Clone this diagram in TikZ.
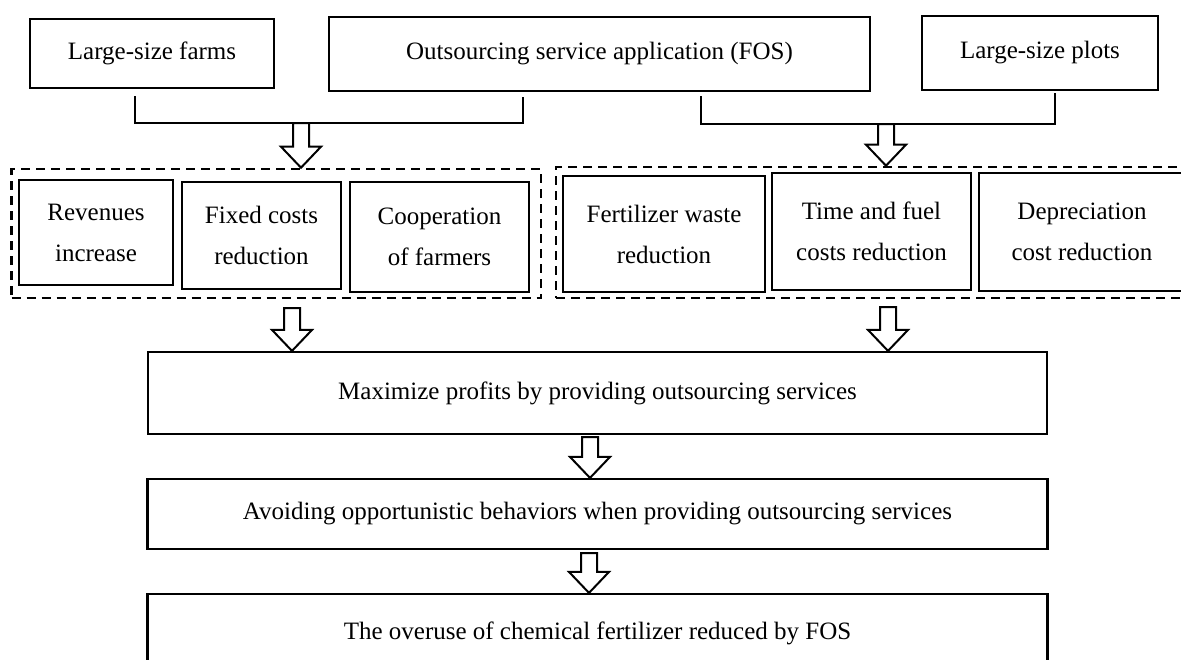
\documentclass[tikz,border=0pt]{standalone}
\usepackage{fontspec}
\setmainfont{Liberation Serif}
\usetikzlibrary{calc}
\tikzset{
  plainbox/.style={draw=black,line width=2.2pt,align=center,inner sep=0pt,
                   font=\fontsize{25}{41}\selectfont},
  groupbox/.style={draw=black,line width=2.6pt,dash pattern=on 9pt off 6pt,
                   inner sep=0pt},
  link/.style={draw=black,line width=2.4pt},
  hollowarr/.style={draw=black,fill=white,line width=2pt,line join=miter}
}
% hollow block arrow pointing down, from #1 to the tip #2
\newcommand{\hollowdown}[2]{%
  \draw[hollowarr] ($(#1)+(-8,0)$) -- ($(#2)+(-8,-21)$) -- ($(#2)+(-20,-21)$)
    -- (#2) -- ($(#2)+(20,-21)$) -- ($(#2)+(8,-21)$) -- ($(#1)+(8,0)$) -- cycle;}

\begin{document}
\begin{tikzpicture}[x=1pt,y=-1pt]
    \path[use as bounding box] (0,0) rectangle (1181,659);
    \clip (0,0) rectangle (1181,659);

    % sources
    \node[plainbox,minimum width=244pt,minimum height=69pt] (farms) at (152,53.5)
      {Large-size farms};
    \node[plainbox,minimum width=541pt,minimum height=74pt] (fos) at (599.5,54)
      {Outsourcing service application (FOS)};
    \node[plainbox,minimum width=236pt,minimum height=74pt] (plots) at (1040,53)
      {Large-size plots};
    \draw[link] ($(farms.south)+(-17,7)$) |- ($(fos.south)+(-76.5,31)$)
      -- ($(fos.south)+(-76.5,5)$);
    \draw[link] ($(fos.south)+(101.5,4)$) |- ($(plots.south)+(15,33)$)
      -- ($(plots.south)+(15,2)$);

    % two groups of effects
    \node[groupbox,minimum width=529.5pt,minimum height=129pt] (grpL) at (276.25,233.5) {};
    \node[groupbox,minimum width=650pt,minimum height=131pt] (grpR) at (881,232.5) {};

    \node[plainbox,minimum width=154pt,minimum height=105pt] (rev) at (96,232.5)
      {Revenues\\increase};
    \node[plainbox,minimum width=159pt,minimum height=107pt] (fixed) at (261.5,235.5)
      {Fixed costs\\reduction};
    \node[plainbox,minimum width=179pt,minimum height=110pt] (coop) at (439.5,237)
      {Cooperation\\of farmers};
    \node[plainbox,minimum width=202pt,minimum height=116pt] (fert) at (664,234)
      {Fertilizer waste\\reduction};
    \node[plainbox,minimum width=199pt,minimum height=117pt] (time) at (871.5,231.5)
      {Time and fuel\\costs reduction};
    \node[plainbox,minimum width=206pt,minimum height=118pt] (depr) at (1082,232)
      {Depreciation\\cost reduction};

    % chain of outcomes
    \node[plainbox,minimum width=899pt,minimum height=82pt] (max) at (597.5,393)
      {Maximize profits by providing outsourcing services};
    \node[plainbox,minimum width=900pt,minimum height=70pt] (avoid) at (597.5,514)
      {Avoiding opportunistic behaviors when providing outsourcing services};
    \node[plainbox,minimum width=900pt,minimum height=78pt] (overuse) at (597.5,633)
      {The overuse of chemical fertilizer reduced by FOS};

    % block arrows
    \coordinate (jL) at (301,123);
    \coordinate (jR) at (886,124);
    \coordinate (mL) at (292,308);
    \coordinate (mR) at (888,307);
    \coordinate (m1) at (590,437);
    \coordinate (m2) at (589,553);
    \coordinate (tjL) at (jL |- grpL.north);
    \coordinate (tjR) at (jR |- grpR.north);
    \coordinate (tmL) at (mL |- max.north);
    \coordinate (tmR) at (mR |- max.north);
    \coordinate (tm1) at (m1 |- avoid.north);
    \coordinate (tm2) at (m2 |- overuse.north);
    \hollowdown{jL}{tjL}
    \hollowdown{jR}{tjR}
    \hollowdown{mL}{tmL}
    \hollowdown{mR}{tmR}
    \hollowdown{m1}{tm1}
    \hollowdown{m2}{tm2}
  \end{tikzpicture}
\end{document}
